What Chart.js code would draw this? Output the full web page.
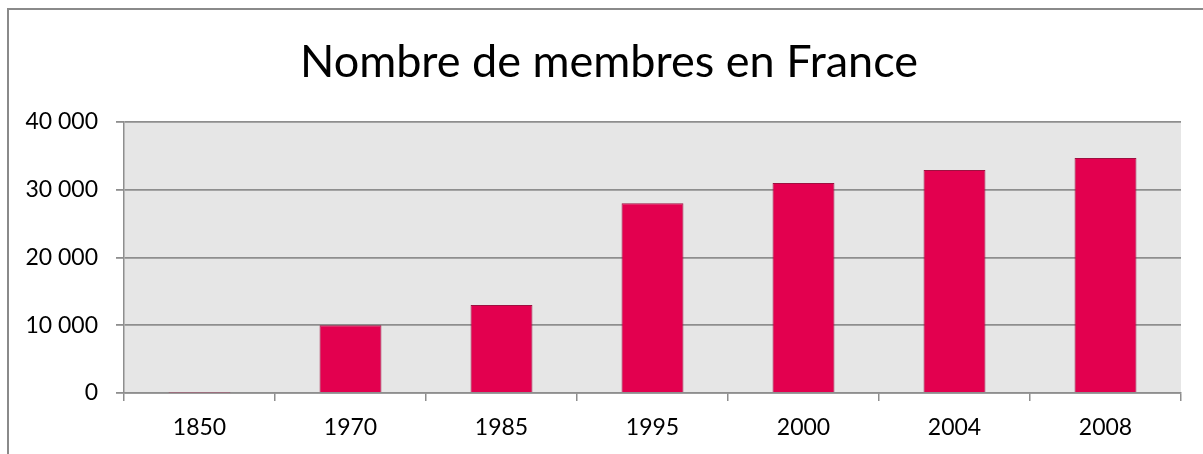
<!DOCTYPE html>
<html>
<head>
<meta charset="utf-8">
<script src="https://cdn.jsdelivr.net/npm/chart.js@4.4.1/dist/chart.umd.min.js"></script>
<style>
  html, body { margin: 0; padding: 0; background: #ffffff; }
  #wrap { position: relative; width: 1203px; height: 454px; }
</style>
</head>
<body>
<div id="wrap"><canvas id="c" width="1203" height="454"></canvas></div>
<script>
const categories = ['1850', '1970', '1985', '1995', '2000', '2004', '2008'];
const members = [60, 10000, 13000, 28000, 31000, 32900, 34700];
const yTicks = [0, 10000, 20000, 30000, 40000];
const chartTitle = 'Nombre de membres en France';

function fmt(v) {
  return String(v).replace(/\B(?=(\d{3})+(?!\d))/g, ' ');
}

const FONT = 'Lato, "Open Sans", sans-serif';

const decor = {
  id: 'decor',
  beforeDraw(chart) {
    const { ctx, chartArea: a } = chart;
    ctx.save();
    ctx.fillStyle = '#e6e6e6';
    ctx.fillRect(a.left, a.top, a.right - a.left, a.bottom - a.top);
    ctx.restore();
  },
  afterDraw(chart) {
    const ctx = chart.ctx;
    ctx.save();
    ctx.strokeStyle = '#8a8a8a';
    ctx.lineWidth = 2;
    ctx.beginPath();
    ctx.moveTo(8, 454);
    ctx.lineTo(8, 9);
    ctx.lineTo(1203, 9);
    ctx.stroke();
    ctx.fillStyle = '#000000';
    ctx.font = '45px ' + FONT;
    ctx.textAlign = 'center';
    ctx.textBaseline = 'middle';
    ctx.fillText(chartTitle, 609, 62);
    ctx.restore();
  }
};

new Chart(document.getElementById('c'), {
  type: 'bar',
  data: {
    labels: categories,
    datasets: [{
      data: members,
      backgroundColor: '#e3004f',
      borderColor: '#9e1040',
      borderWidth: 1,
      categoryPercentage: 1,
      barPercentage: 0.41
    }]
  },
  options: {
    responsive: false,
    animation: false,
    layout: { padding: { left: 0, right: 22, top: 122, bottom: 0 } },
    plugins: {
      legend: { display: false },
      tooltip: { enabled: false },
      title: { display: false }
    },
    scales: {
      y: {
        min: 0,
        max: 40000,
        afterBuildTicks(scale) { scale.ticks = yTicks.map(v => ({ value: v })); },
        afterFit(scale) { scale.width = 124; },
        border: { display: true, color: '#8e8e8e', width: 1.5 },
        grid: { color: '#8e8e8e', lineWidth: 1.8, tickLength: 8, drawTicks: true },
        ticks: {
          color: '#000000',
          padding: 18,
          font: { family: FONT, size: 23 },
          callback: (v) => fmt(v)
        }
      },
      x: {
        afterFit(scale) { scale.height = 61; },
        border: { display: true, color: '#8e8e8e', width: 1.5 },
        grid: { offset: true, drawOnChartArea: false, color: '#8e8e8e', lineWidth: 1.5, tickLength: 8 },
        ticks: {
          color: '#000000',
          padding: 13,
          font: { family: FONT, size: 23 }
        }
      }
    }
  },
  plugins: [decor]
});
</script>
</body>
</html>
